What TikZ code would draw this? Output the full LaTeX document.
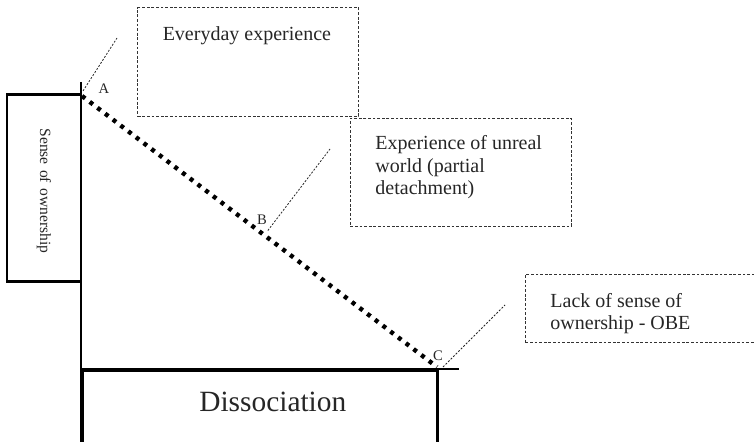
\documentclass[tikz,border=0pt]{standalone}
\usepackage{fontspec}
\setmainfont{Liberation Serif}
\usepackage{tikz}
\usetikzlibrary{calc}
\tikzstyle{notebox} = [draw=black!80, line width=0.45pt, dash pattern=on 1.4pt off 0.9pt, rectangle, anchor=north west, inner xsep=12.5pt, inner ysep=0pt, text=black!85, font=\fontsize{10}{11.25}\selectfont]
\tikzstyle{ownbox} = [draw=black, line width=1.3pt, rectangle, rotate=-90, minimum height=37pt, text width=65.1pt, inner xsep=14.2pt, align=right, text=black!85, font=\fontsize{7.8}{9}\selectfont]
\tikzstyle{dissbox} = [draw=black, line width=1.3pt, rectangle, anchor=north west, minimum width=177.5pt, inner ysep=0pt, text height=20.5pt, text depth=40pt, text=black!85, font=\fontsize{14.7}{17}\selectfont]
\tikzstyle{axisline} = [draw=black, line width=1.3pt]
\tikzstyle{leader} = [draw=black!85, line width=0.4pt, dash pattern=on 1pt off 0.8pt]
\tikzstyle{pathdots} = [draw=black, line width=2.2pt, dash pattern=on 2pt off 2.85pt]
\tikzstyle{pointlabel} = [inner sep=0pt, text=black!85, font=\fontsize{7.3}{8}\selectfont]

\begin{document}
\begin{tikzpicture}[x=0.5pt, y=-0.5pt]
\path [use as bounding box, clip] (0,0) rectangle (754,442);
\coordinate (A) at (82,96);
\coordinate (C) at (437,367);
\coordinate (B) at ($(A)!0.515!(C)$);
\coordinate (Atip) at (117,38);
\coordinate (Btip) at (330,149);
\coordinate (Ctip) at (505,305);
\coordinate (ytop) at (81,82);
\coordinate (ybottom) at (81,450);
\coordinate (xend) at (459,369);

\node [ownbox] (sense) at (44,188.2) {Sense of ownership};
\node [dissbox] (dissoc) at (81,369) {\hspace*{13pt}Dissociation};
\draw [axisline] (ytop) -- (ybottom);
\draw [axisline] (dissoc.north west) -- (xend);

\node [notebox] (everyday) at (137.3,7.3) {%
    \begin{minipage}[t][54.2pt][t]{85.4pt}
        \vspace*{9.5pt}Everyday experience
    \end{minipage}
};
\node [notebox] (unreal) at (350,118) {%
    \begin{minipage}[t][53.9pt][t]{85.4pt}
        \vspace*{8.6pt}Experience of unreal\\
        world (partial\\
        detachment)
    \end{minipage}
};
\node [notebox] (lack) at (525,274) {%
    \begin{minipage}[t][33.85pt][t]{120pt}
        \vspace*{9.4pt}Lack of sense of\\
        ownership - OBE
    \end{minipage}
};

\draw [pathdots] (A) -- (C);
\draw [leader] ($(A)+(1,-5)$) -- (Atip);
\draw [leader] ($(B)+(3,-5)$) -- (Btip);
\draw [leader] ($(C)+(6,0)$) -- (Ctip);

\node [pointlabel] (labA) at (104,89) {A};
\node [pointlabel] (labB) at (262,220) {B};
\node [pointlabel] (labC) at (438,356) {C};
\end{tikzpicture}
\end{document}
